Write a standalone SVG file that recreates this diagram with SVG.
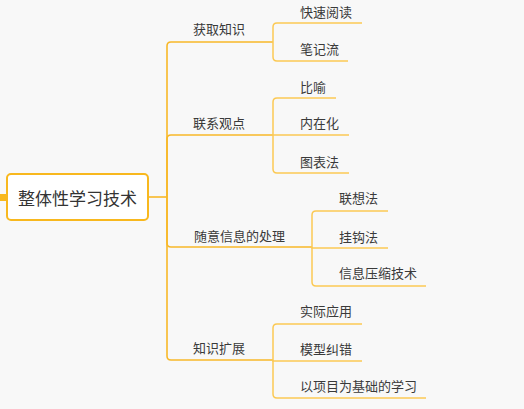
<svg xmlns="http://www.w3.org/2000/svg" width="524" height="409" viewBox="0 0 524 409">
<style>
.bg{fill:#f8f8f8}
.c{fill:none;stroke:#f8b829;stroke-width:1.6}
.l{fill:none;stroke:#fbc954;stroke-width:1.5}
.t{font-family:"Noto Sans CJK SC","Noto Sans",sans-serif;font-size:13px;fill:#3a3a3a}
.r{font-family:"Noto Sans CJK SC","Noto Sans",sans-serif;font-size:17px;fill:#333}
</style>
<rect class="bg" x="0" y="0" width="524" height="409"/>
<g id="connectors">
<path class="c" d="M148,197 L167,197"/>
<path class="c" d="M167,197 L167,46 Q167,42 171,42 L273,42"/>
<path class="c" d="M167,197 L167,139 Q167,135 171,135 L273,135"/>
<path class="c" d="M167,197 L167,243 Q167,247 171,247 L312,247"/>
<path class="c" d="M167,197 L167,356 Q167,360 171,360 L273,360"/>
<path class="l" d="M273,42 L273,27 Q273,23 277,23 L362,23"/>
<path class="l" d="M273,42 L273,57 Q273,61 277,61 L348,61"/>
<path class="l" d="M273,135 L273,102 Q273,98 277,98 L336,98"/>
<path class="l" d="M273,135 L349,135"/>
<path class="l" d="M273,135 L273,169 Q273,173 277,173 L349,173"/>
<path class="l" d="M312,247 L312,215 Q312,211 316,211 L388,211"/>
<path class="l" d="M312,247 L312,248 L388,248"/>
<path class="l" d="M312,247 L312,282 Q312,286 316,286 L426,286"/>
<path class="l" d="M273,360 L273,328 Q273,324 277,324 L362,324"/>
<path class="l" d="M273,360 L273,361 L362,361"/>
<path class="l" d="M273,360 L273,394 Q273,398 277,398 L426,398"/>
</g>
<g id="root">
<rect x="0" y="194" width="7" height="7" fill="#f8b81e"/>
<rect x="7" y="174" width="141" height="46" rx="4" fill="#fff" stroke="#f8b81e" stroke-width="2"/>
<text class="r" x="77.5" y="205" text-anchor="middle">整体性学习技术</text>
</g>
<g id="n1"><text class="t" x="193" y="34">获取知识</text></g>
<g id="n1a"><text class="t" x="300" y="17">快速阅读</text></g>
<g id="n1b"><text class="t" x="300" y="54">笔记流</text></g>
<g id="n2"><text class="t" x="193" y="128">联系观点</text></g>
<g id="n2a"><text class="t" x="300" y="92">比喻</text></g>
<g id="n2b"><text class="t" x="300" y="128">内在化</text></g>
<g id="n2c"><text class="t" x="300" y="167">图表法</text></g>
<g id="n3"><text class="t" x="194" y="241">随意信息的处理</text></g>
<g id="n3a"><text class="t" x="339" y="203">联想法</text></g>
<g id="n3b"><text class="t" x="339" y="242">挂钩法</text></g>
<g id="n3c"><text class="t" x="339" y="278">信息压缩技术</text></g>
<g id="n4"><text class="t" x="193" y="353">知识扩展</text></g>
<g id="n4a"><text class="t" x="300" y="316">实际应用</text></g>
<g id="n4b"><text class="t" x="300" y="354">模型纠错</text></g>
<g id="n4c"><text class="t" x="300" y="391">以项目为基础的学习</text></g>
</svg>
